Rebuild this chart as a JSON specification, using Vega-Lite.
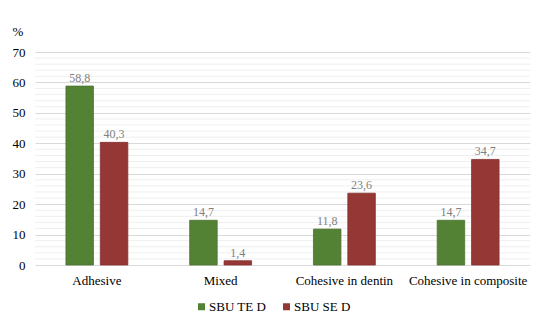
{
  "$schema": "https://vega.github.io/schema/vega-lite/v6.json",
  "width": 495,
  "height": 213,
  "autosize": "none",
  "padding": {"left": 35, "top": 52, "right": 16, "bottom": 61},
  "background": "white",
  "config": {
    "view": {"stroke": null},
    "font": "Liberation Serif",
    "axis": {"labelFont": "Liberation Serif", "titleFont": "Liberation Serif", "labelFontSize": 13, "labelColor": "#000"},
    "legend": {"labelFont": "Liberation Serif", "labelFontSize": 13, "labelColor": "#000"},
    "locale": {"number": {"decimal": ",", "thousands": " ", "grouping": [3], "currency": ["", ""]}}
  },
  "data": {
    "values": [
      {"type": "Adhesive", "group": "SBU TE D", "value": 58.8},
      {"type": "Adhesive", "group": "SBU SE D", "value": 40.3},
      {"type": "Mixed", "group": "SBU TE D", "value": 14.7},
      {"type": "Mixed", "group": "SBU SE D", "value": 1.4},
      {"type": "Cohesive in dentin", "group": "SBU TE D", "value": 11.8},
      {"type": "Cohesive in dentin", "group": "SBU SE D", "value": 23.6},
      {"type": "Cohesive in composite", "group": "SBU TE D", "value": 14.7},
      {"type": "Cohesive in composite", "group": "SBU SE D", "value": 34.7}
    ]
  },
  "layer": [
    {
      "mark": {"type": "rule", "color": "#efefef", "strokeWidth": 1},
      "data": {"values": [{"value": 2}, {"value": 4}, {"value": 6}, {"value": 8}, {"value": 12}, {"value": 14}, {"value": 16}, {"value": 18}, {"value": 22}, {"value": 24}, {"value": 26}, {"value": 28}, {"value": 32}, {"value": 34}, {"value": 36}, {"value": 38}, {"value": 42}, {"value": 44}, {"value": 46}, {"value": 48}, {"value": 52}, {"value": 54}, {"value": 56}, {"value": 58}, {"value": 62}, {"value": 64}, {"value": 66}, {"value": 68}]},
      "encoding": {"y": {"field": "value", "type": "quantitative", "scale": {"domain": [0, 70], "nice": false},
          "axis": {"title": "%", "titleAngle": 0, "titleX": -23, "titleY": -17, "titleAlign": "left", "titleBaseline": "alphabetic", "titleFontWeight": "normal", "titleFontSize": 13, "titleFont": "Liberation Serif", "labelFont": "Liberation Serif", "values": [0, 10, 20, 30, 40, 50, 60, 70], "grid": true, "gridColor": "#d9d9d9", "domain": false, "ticks": false, "labelPadding": 10}}}
    },
    {
      "encoding": {
        "x": {
          "field": "type", "type": "nominal", "sort": null,
          "scale": {"paddingInner": 0.5, "paddingOuter": 0.25},
          "axis": {"title": null, "labelAngle": 0, "domain": false, "ticks": false, "labelPadding": 9}
        },
        "xOffset": {"field": "group", "type": "nominal", "sort": ["SBU TE D", "SBU SE D"], "scale": {"paddingInner": 0.2}},
        "y": {
          "field": "value", "type": "quantitative",
          "scale": {"domain": [0, 70], "nice": false},
          "axis": {"title": "%", "titleAngle": 0, "titleX": -23, "titleY": -17, "titleAlign": "left", "titleBaseline": "alphabetic", "titleFontWeight": "normal", "titleFontSize": 13, "titleFont": "Liberation Serif", "labelFont": "Liberation Serif", "values": [0, 10, 20, 30, 40, 50, 60, 70], "grid": true, "gridColor": "#d9d9d9", "domain": false, "ticks": false, "labelPadding": 10}
        }
      },
      "layer": [
        {
          "mark": {"type": "bar", "strokeWidth": 0.8},
          "encoding": {
            "color": {
              "field": "group", "type": "nominal", "sort": ["SBU TE D", "SBU SE D"],
              "scale": {"domain": ["SBU TE D", "SBU SE D"], "range": ["#548235", "#953735"]},
              "legend": {"title": null, "orient": "none", "direction": "horizontal", "legendX": 160, "legendY": 248, "symbolType": "square", "symbolSize": 49, "symbolStrokeWidth": 0, "columnPadding": 13, "labelOffset": 1, "labelFont": "Liberation Serif", "labelFontSize": 13}
            },
            "stroke": {
              "field": "group", "type": "nominal",
              "scale": {"domain": ["SBU TE D", "SBU SE D"], "range": ["#4a742f", "#84302f"]},
              "legend": null
            }
          }
        },
        {
          "mark": {"type": "text", "dy": -8, "fontSize": 12, "color": "#7f7f7f", "font": "Liberation Serif"},
          "encoding": {
            "text": {"field": "value", "type": "quantitative", "format": ".1f"}
          }
        }
      ]
    }
  ]
}
